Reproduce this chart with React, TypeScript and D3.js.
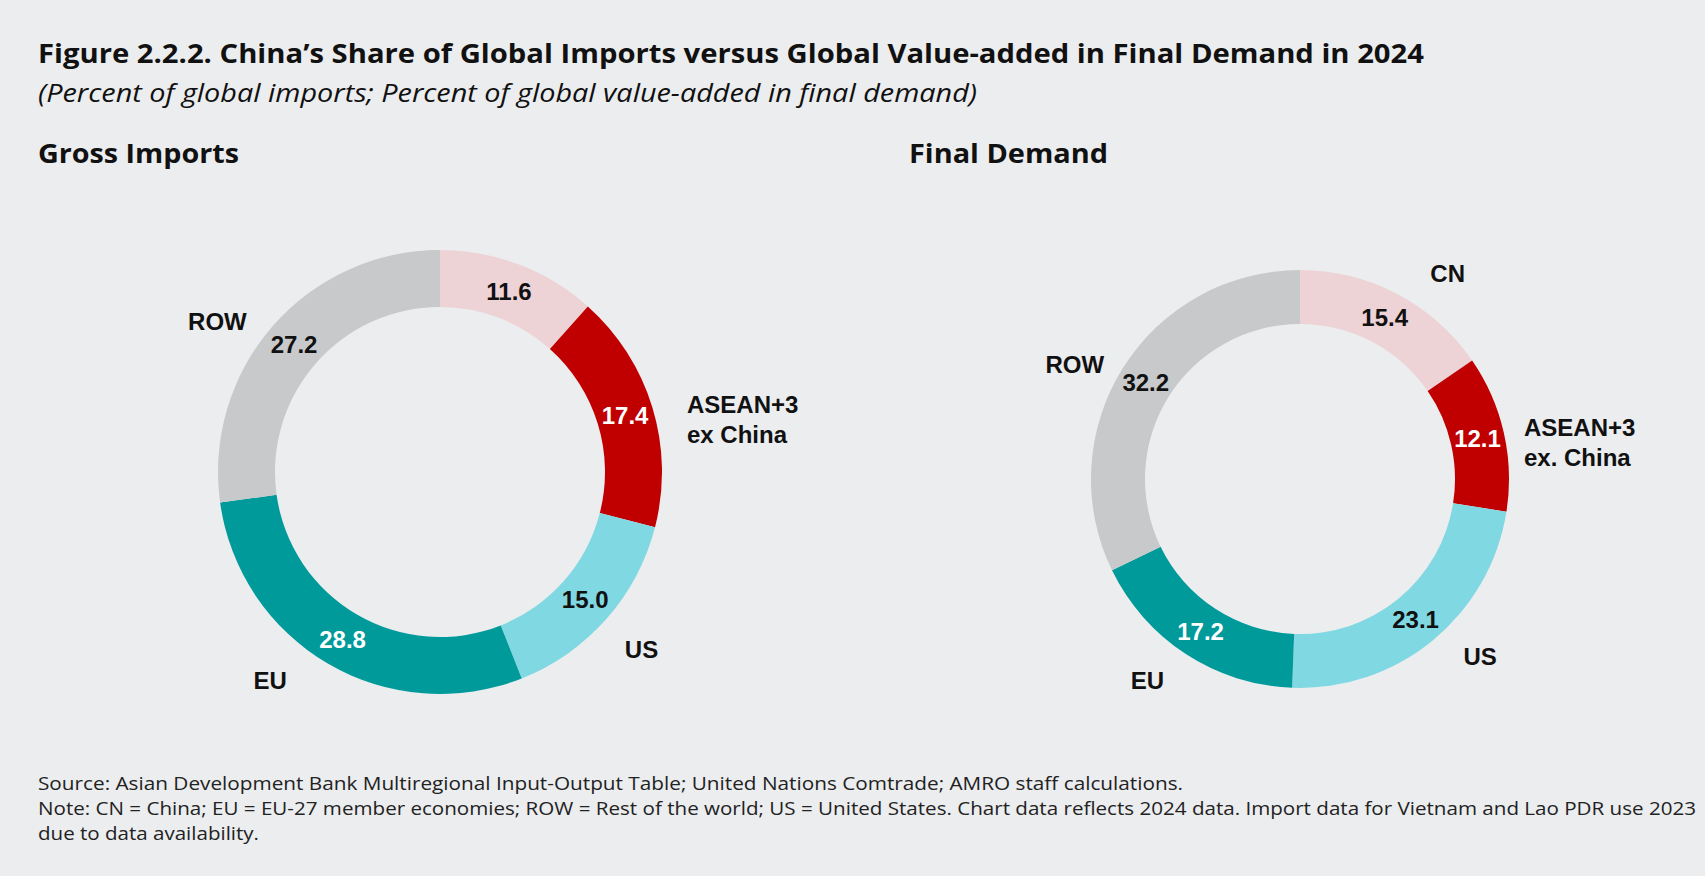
import React from "react";
import * as d3 from "d3";

// slices run clockwise from 12 o'clock
const categories = ["CN", "ASEAN+3 ex China", "US", "EU", "ROW"];
const grossImports = [11.6, 17.4, 15.0, 28.8, 27.2];
const finalDemand = [15.4, 12.1, 23.1, 17.2, 32.2];

// outside labels (CN is left unlabelled on the imports ring)
const grossLabels = [[], ["ASEAN+3", "ex China"], ["US"], ["EU"], ["ROW"]];
const finalLabels = [["CN"], ["ASEAN+3", "ex. China"], ["US"], ["EU"], ["ROW"]];

const sourceLine =
  "Source: Asian Development Bank Multiregional Input-Output Table; United Nations Comtrade; AMRO staff calculations.";
const noteLines = [
  "Note: CN = China; EU = EU-27 member economies; ROW = Rest of the world; US = United States. Chart data reflects 2024 data. Import data for Vietnam and Lao PDR use 2023",
  "due to data availability.",
];

const W = 1705;
const H = 876;
const BG = "#ECEDEF";
const sliceColors = ["#EDD3D6", "#C00000", "#80D8E2", "#009A9A", "#C8C9CB"];
const valueInk = ["#111", "#fff", "#111", "#fff", "#111"];

const headFont = "'Open Sans', 'Noto Sans', sans-serif";
const labelFont = "'Liberation Sans', Arial, sans-serif";

type DonutProps = {
  cx: number;
  cy: number;
  outer: number;
  inner: number;
  values: number[];
  labels: string[][];
  // small angle nudges (degrees) so outer labels sit clear of each other
  shift: number[];
  sideGap: number;
};

const Donut = ({ cx, cy, outer, inner, values, labels, shift, sideGap }: DonutProps) => {
  const pie = d3.pie<number>().sort(null).value((d) => d);
  const arcs = pie(values);
  const arc = d3
    .arc<d3.PieArcDatum<number>>()
    .innerRadius(inner)
    .outerRadius(outer);
  const labelR = outer * 1.21;

  return (
    <g transform={`translate(${cx},${cy})`}>
      {arcs.map((a, i) => (
        <path key={categories[i]} d={arc(a) ?? ""} fill={sliceColors[i]} />
      ))}
      {arcs.map((a, i) => {
        const [x, y] = arc.centroid(a);
        return (
          <text
            key={`v-${i}`}
            x={x}
            y={y}
            textAnchor="middle"
            dominantBaseline="central"
            fontFamily={labelFont}
            fontWeight="bold"
            fontSize={24}
            fill={valueInk[i]}
          >
            {a.value.toFixed(1)}
          </text>
        );
      })}
      {arcs.map((a, i) => {
        const lines = labels[i];
        if (!lines.length) return null;
        if (lines.length > 1) {
          // two-line label hangs off the right edge of the ring
          const [, cyMid] = arc.centroid(a);
          return (
            <text
              key={`c-${i}`}
              fontFamily={labelFont}
              fontWeight="bold"
              fontSize={24}
              fill="#111"
              dominantBaseline="central"
            >
              {lines.map((ln, k) => (
                <tspan
                  key={k}
                  x={outer + sideGap}
                  y={cyMid + 3 + (k - (lines.length - 1) / 2) * 30}
                >
                  {ln}
                </tspan>
              ))}
            </text>
          );
        }
        const ang = (a.startAngle + a.endAngle) / 2 + (shift[i] * Math.PI) / 180;
        return (
          <text
            key={`c-${i}`}
            x={Math.sin(ang) * labelR}
            y={-Math.cos(ang) * labelR}
            textAnchor="middle"
            dominantBaseline="central"
            fontFamily={labelFont}
            fontWeight="bold"
            fontSize={24}
            fill="#111"
          >
            {lines[0]}
          </text>
        );
      })}
    </g>
  );
};

export default function App() {
  return (
    <svg
      width={W}
      height={H}
      style={{ position: "absolute", left: 0, top: 0, display: "block" }}
    >
      <rect width={W} height={H} fill={BG} />

      <text
        x={38}
        y={63}
        fontFamily={headFont}
        fontWeight="bold"
        fontSize={27}
        fill="#111"
        textLength={1386}
        lengthAdjust="spacingAndGlyphs"
      >
        Figure 2.2.2. China’s Share of Global Imports versus Global Value-added in Final Demand in 2024
      </text>
      <text
        x={38}
        y={102}
        fontFamily={headFont}
        fontStyle="italic"
        fontSize={26}
        fill="#111"
        textLength={939}
        lengthAdjust="spacingAndGlyphs"
      >
        (Percent of global imports; Percent of global value-added in final demand)
      </text>

      <text
        x={38}
        y={163}
        fontFamily={headFont}
        fontWeight="bold"
        fontSize={27}
        fill="#111"
        textLength={201}
        lengthAdjust="spacingAndGlyphs"
      >
        Gross Imports
      </text>
      <text
        x={909}
        y={163}
        fontFamily={headFont}
        fontWeight="bold"
        fontSize={27}
        fill="#111"
        textLength={199}
        lengthAdjust="spacingAndGlyphs"
      >
        Final Demand
      </text>

      <Donut
        cx={440}
        cy={472}
        outer={222}
        inner={165}
        values={grossImports}
        labels={grossLabels}
        shift={[0, 0, 0, 9, -7]}
        sideGap={25}
      />
      <Donut
        cx={1300}
        cy={479}
        outer={209}
        inner={155}
        values={finalDemand}
        labels={finalLabels}
        shift={[8, 0, -6, 4, -5]}
        sideGap={15}
      />

      <g fontFamily={headFont} fontSize={19} fill="#222">
        <text x={38} y={790} textLength={1145} lengthAdjust="spacingAndGlyphs">
          {sourceLine}
        </text>
        <text x={38} y={815} textLength={1658} lengthAdjust="spacingAndGlyphs">
          {noteLines[0]}
        </text>
        <text x={38} y={840} textLength={221} lengthAdjust="spacingAndGlyphs">
          {noteLines[1]}
        </text>
      </g>
    </svg>
  );
}
